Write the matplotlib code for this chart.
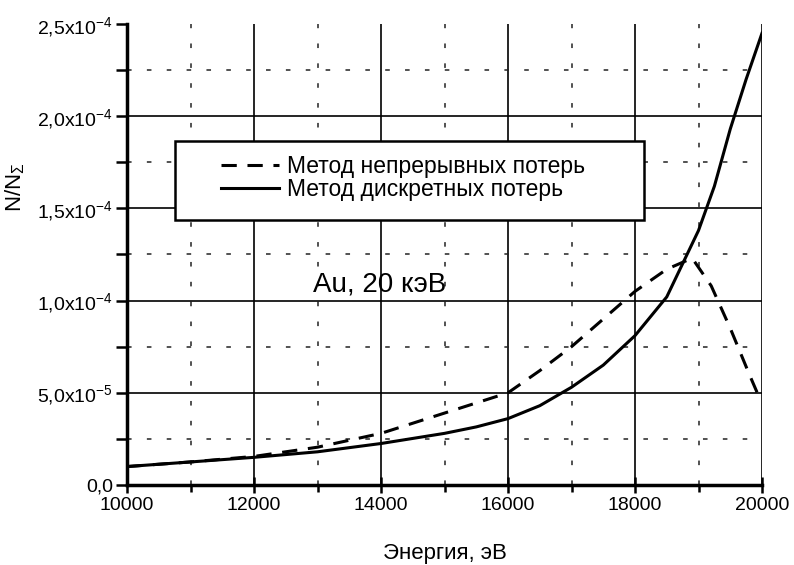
import matplotlib
matplotlib.use('Agg')
import matplotlib.pyplot as plt
from matplotlib.patches import Rectangle
from matplotlib.ticker import FixedLocator, MultipleLocator

plt.rcParams['font.family'] = ['Liberation Sans', 'DejaVu Sans']
plt.rcParams['mathtext.fontset'] = 'custom'
plt.rcParams['mathtext.rm'] = 'Liberation Sans'
plt.rcParams['mathtext.it'] = 'Liberation Sans:italic'
plt.rcParams['mathtext.default'] = 'regular'

# continuous-loss method (dashed)
energy_cont = [10000, 11000, 12000, 13000, 14000, 15000, 16000, 16500, 17000,
               17500, 18000, 18500, 18900, 19200, 19500, 19800, 19950]
n_cont = [1.0e-5, 1.25e-5, 1.55e-5, 2.05e-5, 2.8e-5, 3.9e-5, 5.0e-5, 6.2e-5, 7.5e-5,
          9.0e-5, 1.05e-4, 1.17e-4, 1.23e-4, 1.08e-4, 8.5e-5, 6.0e-5, 4.8e-5]

# discrete-loss method (solid)
energy_disc = [10000, 11000, 12000, 13000, 14000, 15000, 15500, 16000, 16500,
               17000, 17500, 18000, 18500, 19000, 19250, 19500, 19750, 20000]
n_disc = [1.0e-5, 1.25e-5, 1.5e-5, 1.8e-5, 2.25e-5, 2.8e-5, 3.15e-5, 3.6e-5, 4.3e-5,
          5.3e-5, 6.5e-5, 8.1e-5, 1.02e-4, 1.38e-4, 1.62e-4, 1.93e-4, 2.2e-4, 2.45e-4]

y_ticks = [0, 5e-5, 1e-4, 1.5e-4, 2e-4, 2.5e-4]
y_ticklabels = ['0,0', r'5,0x10$^{-5}$', r'1,0x10$^{-4}$', r'1,5x10$^{-4}$',
                r'2,0x10$^{-4}$', r'2,5x10$^{-4}$']
x_ticks = [10000, 12000, 14000, 16000, 18000, 20000]

fig = plt.figure(figsize=(7.94, 5.65), dpi=100)
ax = fig.add_axes([0.16, 0.1416, 0.7997, 0.816])

ax.plot(energy_cont, n_cont, color='black', lw=2.2, linestyle=(0, (5, 3.5)),
        label='Метод непрерывных потерь', zorder=3)
ax.plot(energy_disc, n_disc, color='black', lw=2.2,
        label='Метод дискретных потерь', zorder=3)

ax.set_xlim(10000, 20000)
ax.set_ylim(0, 2.5e-4)
ax.xaxis.set_major_locator(FixedLocator(x_ticks))
ax.xaxis.set_minor_locator(MultipleLocator(1000))
ax.yaxis.set_major_locator(FixedLocator(y_ticks))
ax.yaxis.set_minor_locator(MultipleLocator(2.5e-5))
ax.set_yticklabels(y_ticklabels)
ax.set_xticklabels([str(t) for t in x_ticks])

ax.grid(which='major', color='black', lw=1.2)
ax.grid(which='minor', color='#222222', lw=1.1, linestyle=(0, (3, 10)))
ax.set_axisbelow(True)
ax.get_ygridlines()[-1].set_visible(False)

for s in ['top', 'right']:
    ax.spines[s].set_visible(False)
for s in ['left', 'bottom']:
    ax.spines[s].set_linewidth(2.5)

ax.tick_params(axis='y', which='both', direction='out', length=8, width=1.8,
               labelsize=14, pad=2)
ax.tick_params(axis='x', which='major', direction='inout', length=12, width=1.8,
               labelsize=14, pad=3)
ax.tick_params(axis='x', which='minor', direction='out', length=5, width=1.8)

ax.set_xlabel('Энергия, эВ', fontsize=16)
ax.xaxis.set_label_coords(0.5, -0.125)
ax.set_ylabel(r'N/N$_\Sigma$', fontsize=16)
ax.yaxis.set_label_coords(-0.158, 0.646)

# legend box
box = Rectangle((0.0756, 0.575), 0.738, 0.171, transform=ax.transAxes,
                facecolor='white', edgecolor='black', lw=1.8, zorder=4)
ax.add_patch(box)
leg = ax.legend(loc='upper left', bbox_to_anchor=(0.148, 0.716), frameon=False,
                fontsize=16.5, handlelength=2.55, handletextpad=0.35,
                labelspacing=0.0, borderpad=0, borderaxespad=0)
leg.set_zorder(5)

ax.text(13984, 1.085e-4, 'Au, 20 кэВ', fontsize=20, ha='center', va='center')

fig.savefig('out.png', dpi=100)
